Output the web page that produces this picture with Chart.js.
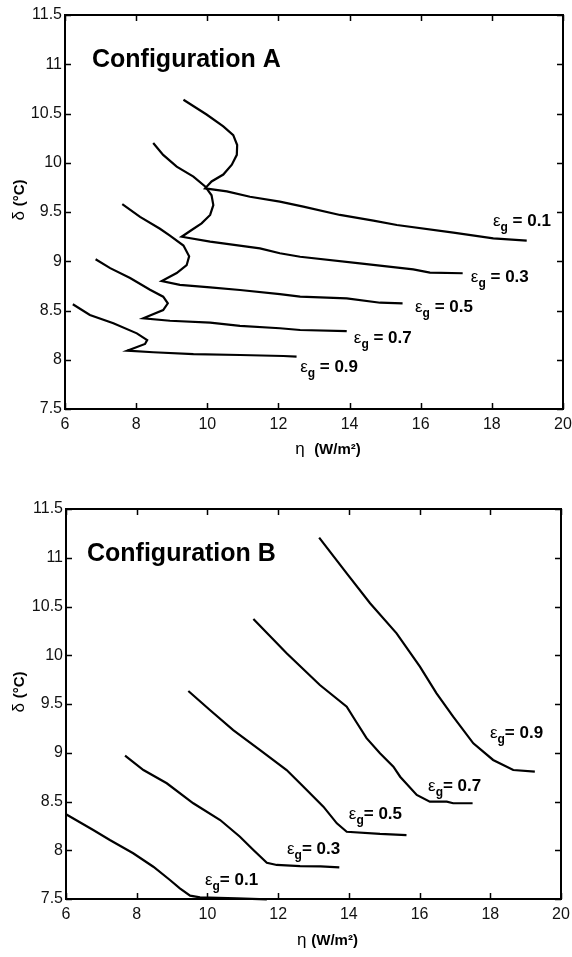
<!DOCTYPE html>
<html>
<head>
<meta charset="utf-8">
<script src="https://cdn.jsdelivr.net/npm/chart.js"></script>
<style>
  body { margin: 0; background: #fff; }
  .wrap { position: absolute; left: 0; width: 572px; }
</style>
</head>
<body>
<div class="wrap" style="top:0"><canvas id="chartA" width="572" height="470"></canvas></div>
<div class="wrap" style="top:470px"><canvas id="chartB" width="572" height="487"></canvas></div>

<script>
// emissivity of each curve
var emissivities = ['0.1', '0.3', '0.5', '0.7', '0.9'];
var xTicks = [6, 8, 10, 12, 14, 16, 18, 20];
var yTicks = [7.5, 8, 8.5, 9, 9.5, 10, 10.5, 11, 11.5];

// Configuration A : eta (W/m2) and delta (degC)
var etaA01 = [9.33, 9.98, 10.45, 10.73, 10.84, 10.83, 10.69, 10.45, 10.12, 9.94, 10.55, 11.2, 12.04, 12.7, 13.73, 14.67, 15.33, 16.92, 18.04, 18.98];
var deltaA01 = [10.64, 10.49, 10.37, 10.28, 10.18, 10.08, 9.98, 9.88, 9.81, 9.74, 9.71, 9.655, 9.605, 9.554, 9.47, 9.412, 9.368, 9.29, 9.233, 9.209];
var etaA03 = [8.48, 8.76, 9.14, 9.61, 9.94, 10.12, 10.17, 10.08, 9.84, 9.56, 9.28, 10.08, 11.48, 12.04, 12.61, 14.29, 15.79, 16.26, 17.18];
var deltaA03 = [10.2, 10.08, 9.96, 9.86, 9.76, 9.67, 9.57, 9.47, 9.385, 9.317, 9.249, 9.2, 9.13, 9.081, 9.046, 8.979, 8.918, 8.884, 8.878];
var etaA05 = [7.61, 8.11, 8.67, 8.95, 9.33, 9.49, 9.42, 9.14, 8.72, 9.23, 10.08, 10.92, 12.04, 12.61, 13.92, 14.86, 15.49];
var deltaA05 = [9.58, 9.45, 9.33, 9.26, 9.16, 9.05, 8.96, 8.88, 8.8, 8.76, 8.735, 8.708, 8.667, 8.64, 8.624, 8.579, 8.573];
var etaA07 = [6.86, 7.27, 7.83, 8.39, 8.76, 8.89, 8.76, 8.2, 8.95, 10.08, 10.92, 12.04, 12.61, 13.92];
var deltaA07 = [9.02, 8.93, 8.83, 8.71, 8.64, 8.573, 8.505, 8.421, 8.396, 8.376, 8.343, 8.32, 8.302, 8.29];
var etaA09 = [6.22, 6.7, 7.36, 8.02, 8.31, 8.25, 7.75, 8.48, 9.61, 10.92, 12.14, 12.51];
var deltaA09 = [8.563, 8.454, 8.37, 8.268, 8.2, 8.16, 8.092, 8.076, 8.058, 8.048, 8.038, 8.031];

// Configuration B
var etaB01 = [6.0, 6.77, 7.24, 7.9, 8.47, 8.94, 9.22, 9.51, 9.79, 10.83, 11.68];
var deltaB01 = [8.37, 8.208, 8.105, 7.969, 7.831, 7.695, 7.61, 7.534, 7.517, 7.507, 7.497];
var etaB03 = [7.67, 8.19, 8.85, 9.6, 10.36, 10.92, 11.3, 11.68, 11.96, 12.62, 13.2, 13.73];
var deltaB03 = [8.97, 8.823, 8.687, 8.482, 8.31, 8.139, 8.003, 7.872, 7.849, 7.838, 7.835, 7.825];
var etaB05 = [9.46, 10.07, 10.73, 11.49, 12.24, 12.71, 13.28, 13.66, 13.94, 14.88, 15.63];
var deltaB05 = [9.633, 9.438, 9.233, 9.028, 8.823, 8.654, 8.447, 8.276, 8.19, 8.167, 8.156];
var etaB07 = [11.3, 12.24, 13.18, 13.94, 14.22, 14.5, 14.88, 15.26, 15.45, 15.92, 16.29, 16.77, 16.95, 17.5];
var deltaB07 = [10.372, 10.02, 9.695, 9.472, 9.31, 9.15, 8.994, 8.857, 8.754, 8.567, 8.498, 8.498, 8.482, 8.482];
var etaB09 = [13.16, 13.94, 14.6, 15.35, 16.01, 16.48, 16.95, 17.52, 18.08, 18.65, 19.26];
var deltaB09 = [11.206, 10.84, 10.533, 10.225, 9.883, 9.61, 9.37, 9.097, 8.926, 8.823, 8.806];

// where the "eps_g = ..." labels sit (data units, left edge / baseline)
var labelEtaA = [18.03, 17.41, 15.84, 14.12, 12.61];
var labelDeltaA = [9.36, 8.79, 8.485, 8.17, 7.876];
var labelEtaB = [9.93, 12.25, 14.0, 16.24, 17.99];
var labelDeltaB = [7.644, 7.962, 8.32, 8.608, 9.151];

var FONT = "'Liberation Sans', Arial, Helvetica, sans-serif";

function toPoints(xs, ys) {
    return xs.map(function (v, i) { return { x: v, y: ys[i] }; });
}

function makeDatasets(etas, deltas) {
    return emissivities.map(function (e, i) {
        return {
            label: 'εg = ' + e,
            data: toPoints(etas[i], deltas[i]),
            showLine: true,
            borderColor: '#000',
            borderWidth: 2.2,
            pointRadius: 0,
            tension: 0,
            clip: false
        };
    });
}

// frame, inward ticks, curve labels and axis titles
var framePlugin = {
    id: 'frame',
    afterDraw: function (chart, args, opts) {
        var ctx = chart.ctx, a = chart.chartArea;
        var x = chart.scales.x, y = chart.scales.y;
        ctx.save();
        ctx.strokeStyle = '#000';
        ctx.lineWidth = 1.5;
        ctx.beginPath();
        xTicks.forEach(function (t) {
            var px = Math.round(x.getPixelForValue(t)) + 0.5;
            ctx.moveTo(px, a.bottom); ctx.lineTo(px, a.bottom - 6);
            ctx.moveTo(px, a.top); ctx.lineTo(px, a.top + 6);
        });
        yTicks.forEach(function (t) {
            var py = Math.round(y.getPixelForValue(t)) + 0.5;
            ctx.moveTo(a.left, py); ctx.lineTo(a.left + 6, py);
            ctx.moveTo(a.right, py); ctx.lineTo(a.right - 6, py);
        });
        ctx.stroke();
        ctx.lineWidth = 2;
        ctx.strokeRect(a.left, a.top, a.right - a.left, a.bottom - a.top);

        ctx.fillStyle = '#000';
        ctx.textBaseline = 'alphabetic';
        ctx.textAlign = 'left';

        // configuration title
        ctx.font = 'bold 25px ' + FONT;
        ctx.fillText(opts.title, a.left + opts.titleDx, a.top + 52);

        // curve labels
        opts.labelEta.forEach(function (ex, i) {
            var px = x.getPixelForValue(ex), py = y.getPixelForValue(opts.labelDelta[i]);
            ctx.font = '17px ' + FONT;
            ctx.fillText('ε', px, py);
            var w = ctx.measureText('ε').width;
            ctx.font = 'bold 12px ' + FONT;
            ctx.fillText('g', px + w, py + 5);
            var w2 = ctx.measureText('g').width;
            ctx.font = 'bold 17px ' + FONT;
            ctx.fillText(opts.gap + '= ' + emissivities[i], px + w + w2, py);
        });

        // x axis title
        var cx = (a.left + a.right) / 2 + 14;
        ctx.font = '17px ' + FONT;
        var t1 = 'η' + opts.gap + ' ';
        var w1 = ctx.measureText(t1).width;
        ctx.font = 'bold 15px ' + FONT;
        var t2 = '(W/m²)';
        var wt2 = ctx.measureText(t2).width;
        var sx = cx - (w1 + wt2) / 2;
        ctx.font = '17px ' + FONT;
        ctx.fillText(t1, sx, a.bottom + opts.xTitleDy);
        ctx.font = 'bold 15px ' + FONT;
        ctx.fillText(t2, sx + w1, a.bottom + opts.xTitleDy);

        // y axis title
        ctx.translate(24, (a.top + a.bottom) / 2 - 12);
        ctx.rotate(-Math.PI / 2);
        ctx.font = '17px ' + FONT;
        var d1 = 'δ ';
        var dw1 = ctx.measureText(d1).width;
        ctx.font = 'bold 15px ' + FONT;
        var d2 = '(°C)';
        var dw2 = ctx.measureText(d2).width;
        var sy = -(dw1 + dw2) / 2;
        ctx.font = '17px ' + FONT;
        ctx.fillText(d1, sy, 0);
        ctx.font = 'bold 15px ' + FONT;
        ctx.fillText(d2, sy + dw1, 0);
        ctx.restore();
    }
};

function makeChart(id, datasets, pad, yWidth, xHeight, frameOpts) {
    var ctx = document.getElementById(id).getContext('2d');
    return new Chart(ctx, {
        type: 'scatter',
        data: { datasets: datasets },
        plugins: [framePlugin],
        options: {
            responsive: false,
            animation: false,
            layout: { padding: pad },
            scales: {
                x: {
                    type: 'linear', min: 6, max: 20,
                    afterBuildTicks: function (s) { s.ticks = xTicks.map(function (v) { return { value: v }; }); },
                    ticks: { font: { family: FONT, size: 16 }, color: '#111', padding: 6, maxRotation: 0,
                             callback: function (v) { return String(v); } },
                    grid: { display: false, drawTicks: false },
                    border: { display: false },
                    afterFit: function (s) { s.height = xHeight; s.paddingLeft = 0; s.paddingRight = 0; }
                },
                y: {
                    type: 'linear', min: 7.5, max: 11.5,
                    afterBuildTicks: function (s) { s.ticks = yTicks.map(function (v) { return { value: v }; }); },
                    ticks: { font: { family: FONT, size: 16 }, color: '#111', padding: 3,
                             callback: function (v) { return String(v); } },
                    grid: { display: false, drawTicks: false },
                    border: { display: false },
                    afterFit: function (s) { s.width = yWidth; s.paddingTop = 0; s.paddingBottom = 0; }
                }
            },
            plugins: {
                legend: { display: false },
                tooltip: { enabled: false },
                frame: frameOpts
            }
        }
    });
}

makeChart('chartA',
    makeDatasets([etaA01, etaA03, etaA05, etaA07, etaA09], [deltaA01, deltaA03, deltaA05, deltaA07, deltaA09]),
    { top: 15, right: 9, left: 0, bottom: 0 }, 65, 61,
    { title: 'Configuration A', titleDx: 27, labelEta: labelEtaA, labelDelta: labelDeltaA, gap: ' ', xTitleDy: 45 });

makeChart('chartB',
    makeDatasets([etaB01, etaB03, etaB05, etaB07, etaB09], [deltaB01, deltaB03, deltaB05, deltaB07, deltaB09]),
    { top: 39, right: 11, left: 0, bottom: 0 }, 66, 58,
    { title: 'Configuration B', titleDx: 21, labelEta: labelEtaB, labelDelta: labelDeltaB, gap: '', xTitleDy: 46 });
</script>
</body>
</html>
